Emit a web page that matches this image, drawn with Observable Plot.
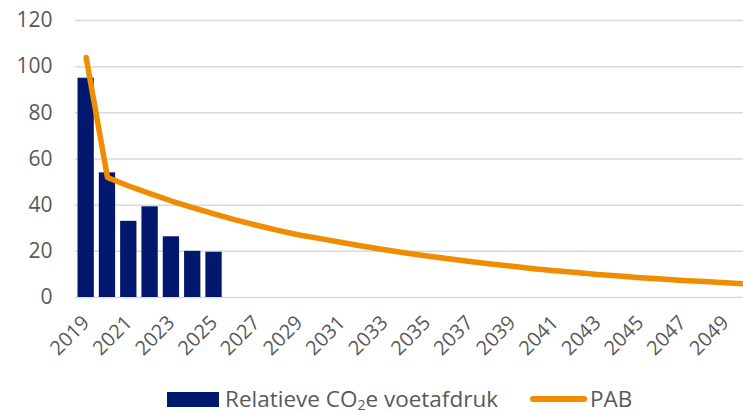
<!DOCTYPE html>
<html>
<head>
<meta charset="utf-8">
<script src="https://cdn.jsdelivr.net/npm/d3@7"></script>
<script src="https://cdn.jsdelivr.net/npm/@observablehq/plot@0.6"></script>
<style>
  html, body { margin: 0; padding: 0; background: #fff; width: 743px; height: 413px; overflow: hidden; }
  #chart svg { display: block; overflow: hidden; }
  #chart svg text { font-family: "Open Sans", sans-serif; font-size: 21px !important; fill: #595959; }
  #chart svg g[aria-label="x-axis tick label"] text { font-size: 20px !important; }
  .legend { position: relative; height: 43px; font-family: "Open Sans", sans-serif; font-size: 22.5px; color: #595959; }
  .legend .item { position: absolute; top: 15px; display: flex; align-items: center; height: 28px; line-height: 28px; white-space: nowrap; }
  .legend .sw-bar { width: 52px; height: 15px; background: #00196E; margin-right: 6px; }
  .legend .sw-line { width: 57px; height: 6px; border-radius: 3px; background: #F08C00; margin-right: 3px; }
  .legend sub { font-size: 14px; vertical-align: -3px; line-height: 0; }
</style>
</head>
<body>
<div id="chart"></div>
<div class="legend">
  <div class="item" style="left:167px;"><span class="sw-bar"></span><span>Relatieve CO<sub>2</sub>e voetafdruk</span></div>
  <div class="item" style="left:530px;"><span class="sw-line"></span><span>PAB</span></div>
</div>
<script>
// Categories (years)
const years = [2019,2020,2021,2022,2023,2024,2025,2026,2027,2028,2029,2030,2031,2032,2033,2034,
               2035,2036,2037,2038,2039,2040,2041,2042,2043,2044,2045,2046,2047,2048,2049,2050];
// Bars: Relatieve CO2e voetafdruk
const barYears = [2019,2020,2021,2022,2023,2024,2025];
const barValues = [95,54,33,39.3,26.3,20,19.6];
// Line: PAB
const pabValues = [104,52,48.3,45,41.8,38.9,36.2,33.6,31.3,29.1,27.1,25.5,23.8,22.2,20.7,19.3,
                   18,16.8,15.6,14.5,13.5,12.5,11.6,10.8,10,9.3,8.6,8,7.4,6.9,6.4,5.9];
// Tick labels
const xTicks = years.filter(y => y % 2 === 1);
const yTicks = [0,20,40,60,80,100,120];

const bars = barYears.map((y, i) => ({year: y, value: barValues[i]}));
const pab = years.map((y, i) => ({year: y, value: pabValues[i]}));

const chart = Plot.plot({
  width: 743,
  height: 370,
  marginLeft: 75,
  marginRight: 0,
  marginTop: 20,
  marginBottom: 73,
  style: {fontFamily: "'Open Sans', sans-serif", fontSize: "21px", color: "#595959", background: "#fff"},
  x: {type: "band", domain: years, range: [75, 757], paddingInner: 0.235, paddingOuter: 0.1175, round: false},
  y: {domain: [0, 120]},
  marks: [
    Plot.ruleY(yTicks, {stroke: "#d9d9d9", strokeWidth: 1.5}),
    Plot.barY(bars, {x: "year", y: "value", fill: "#00196E"}),
    Plot.line(pab, {x: "year", y: "value", stroke: "#F08C00", strokeWidth: 5.5, strokeLinejoin: "round", strokeLinecap: "round"}),
    Plot.axisY({ticks: yTicks, tickSize: 0, tickPadding: 23, label: null, fill: "#595959", tickFormat: d => String(d)}),
    Plot.axisX({ticks: xTicks, tickSize: 0, tickPadding: 22, tickRotate: -45, label: null, fill: "#595959", tickFormat: d => String(d)})
  ]
});
document.getElementById("chart").appendChild(chart);
</script>
</body>
</html>
